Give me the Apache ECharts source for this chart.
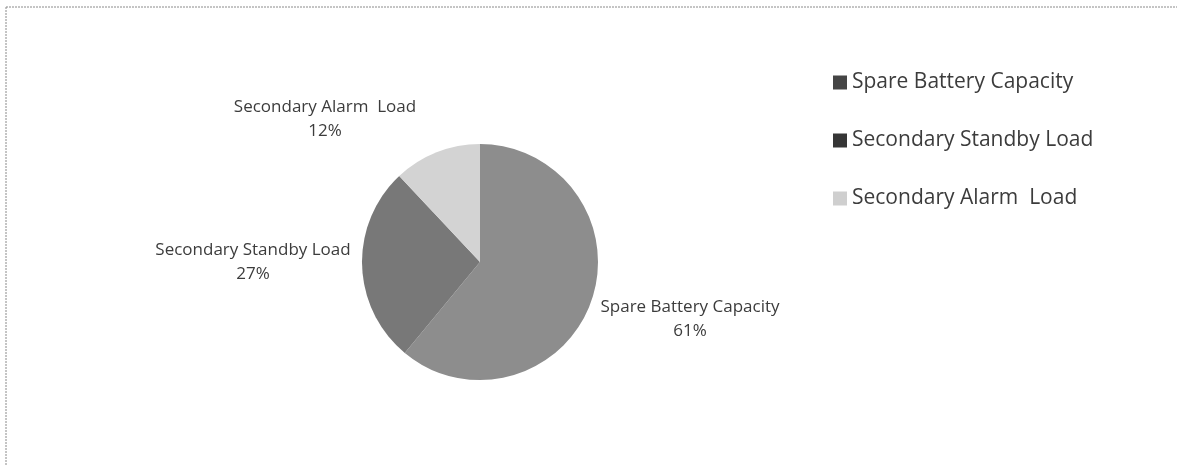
<!DOCTYPE html>
<html>
<head>
<meta charset="utf-8">
<script src="https://cdn.jsdelivr.net/npm/echarts@6/dist/echarts.min.js"></script>
<style>
  html, body { margin: 0; padding: 0; background: #fff; }
  #batteryLoadView { width: 1177px; height: 466px; }
</style>
</head>
<body>
<div id="batteryLoadView"></div>
<script>
// load breakdown, clockwise from 12 o'clock
const categories = ['Spare Battery Capacity', 'Secondary Standby Load', 'Secondary Alarm  Load']
const percentValues = [61, 27, 12]
const sliceColors = ['#8d8d8d', '#787878', '#d3d3d3']
const legendColors = ['#454545', '#363636', '#cfcfcf']

const pieCenter = [480, 262]
// label centre offsets from pie centre
const labelOffsets = [[210, 57], [-227, 0], [-155, -143]]

let chart = echarts.init(document.getElementById('batteryLoadView'))
let option = {
  animation: false,
  textStyle: { fontFamily: 'Open Sans' },
  graphic: [
    // dashed frame, only top and left are visible in the scan
    { type: 'line', shape: { x1: 6, y1: 7, x2: 1177, y2: 7 }, style: { stroke: '#8a8a8a', lineDash: [2, 1], lineWidth: 1 } },
    { type: 'line', shape: { x1: 6, y1: 7, x2: 6, y2: 466 }, style: { stroke: '#8a8a8a', lineDash: [2, 1], lineWidth: 1 } }
  ],
  legend: {
    orient: 'vertical',
    left: 828,
    top: 67,
    itemGap: 37,
    itemWidth: 14,
    itemHeight: 14,
    icon: 'rect',
    textStyle: { fontSize: 21, color: '#3c3c3c', fontFamily: 'Open Sans' },
    data: categories.map((name, i) => ({ name: name, itemStyle: { color: legendColors[i] } }))
  },
  series: [
    {
      type: 'pie',
      center: pieCenter,
      radius: 118,
      startAngle: 90,
      clockwise: true,
      label: {
        show: true,
        position: 'outside',
        formatter: '{b}\n{c}%',
        fontSize: 17,
        lineHeight: 24,
        color: '#3c3c3c',
        fontFamily: 'Open Sans'
      },
      labelLine: { show: false },
      labelLayout: function (p) {
        const o = labelOffsets[p.dataIndex]
        return { x: pieCenter[0] + o[0], y: pieCenter[1] + o[1], align: 'center', verticalAlign: 'middle' }
      },
      itemStyle: { borderWidth: 0 },
      emphasis: { disabled: true },
      data: categories.map((name, i) => ({
        name: name,
        value: percentValues[i],
        itemStyle: { color: sliceColors[i] }
      }))
    }
  ]
}
option && chart.setOption(option)
</script>
</body>
</html>
